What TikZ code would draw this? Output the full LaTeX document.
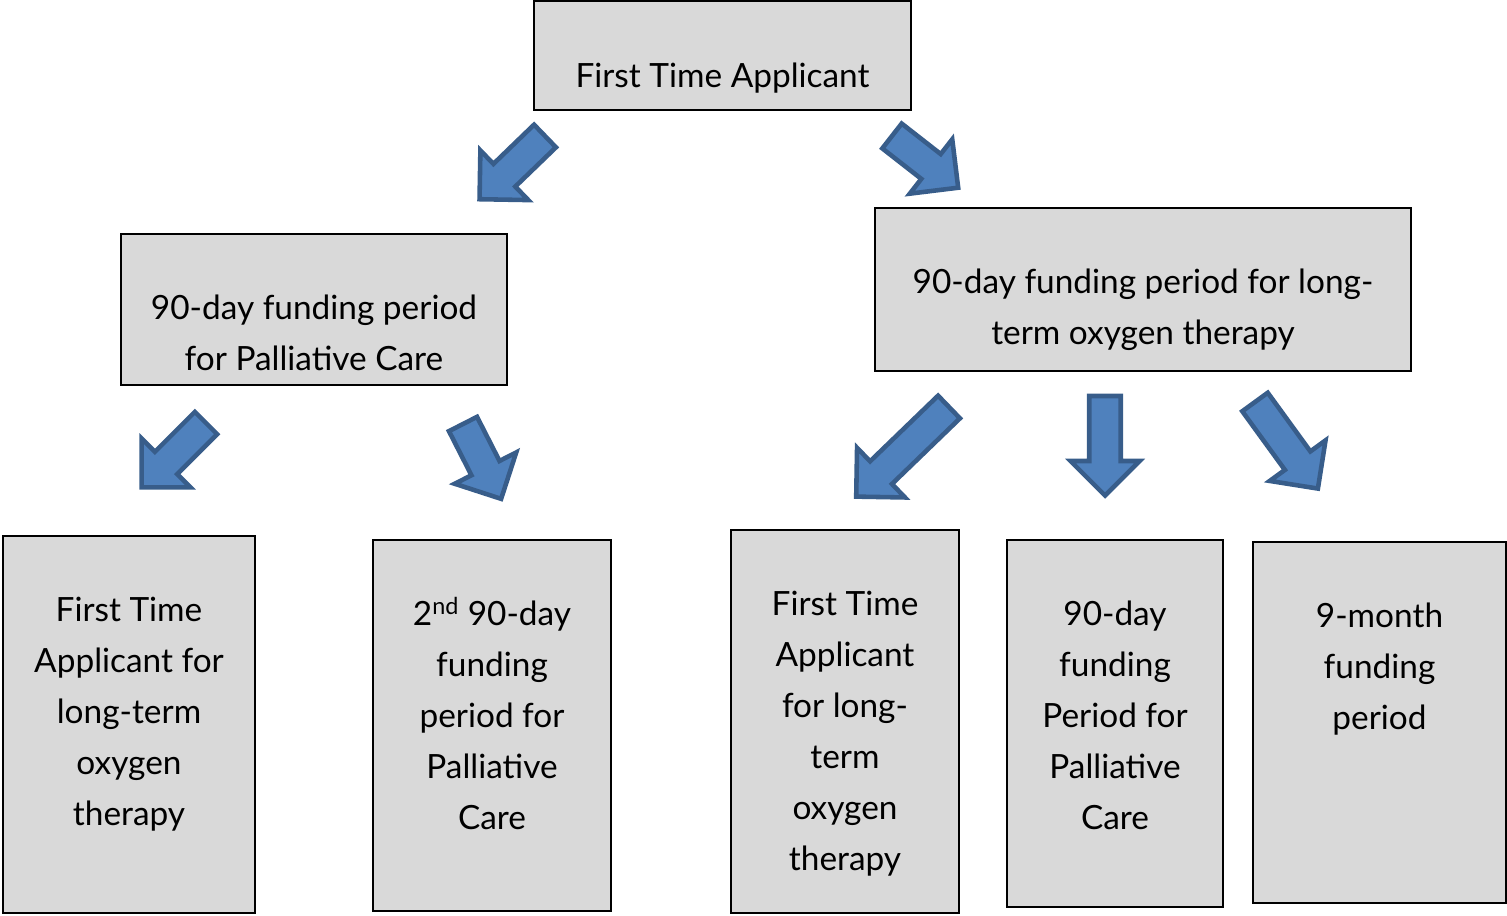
\documentclass[tikz,border=0pt]{standalone}
\usepackage{fontspec}
\setmainfont{Lato}
\usetikzlibrary{positioning}
\definecolor{boxgrey}{HTML}{D9D9D9}
\definecolor{arrowblue}{HTML}{4F81BD}
\definecolor{arrowedge}{HTML}{385D8A}
\tikzstyle{gblock} = [rectangle, draw=black, fill=boxgrey, line width=1pt]
\tikzstyle{btext} = [align=center, inner sep=0pt, anchor=north,
  font=\fontsize{19}{29}\selectfont, execute at begin node=\strut]
\tikzset{pics/barrow/.style={code={
  \draw[line width=2.6pt, draw=arrowedge, fill=arrowblue]
    (0,-0.315) -- (#1-0.69,-0.315) -- (#1-0.69,-0.69) -- (#1,0)
    -- (#1-0.69,0.69) -- (#1-0.69,0.315) -- (0,0.315) -- cycle;}}}

\begin{document}
\begin{tikzpicture}
    \useasboundingbox (0,0) rectangle (30.14,-18.3);
    % boxes
    \node (Top) [gblock, minimum width=7.54cm, minimum height=2.18cm] at (14.45,-1.11) {};
    \node (Pall) [gblock, minimum width=7.72cm, minimum height=3.02cm] at (6.28,-6.19) {};
    \node (Oxy) [gblock, minimum width=10.72cm, minimum height=3.26cm] at (22.86,-5.79) {};
    \node (PallFirst) [gblock, minimum width=5.04cm, minimum height=7.54cm] at (2.58,-14.49) {};
    \node (PallSecond) [gblock, minimum width=4.76cm, minimum height=7.42cm] at (9.84,-14.51) {};
    \node (OxyFirst) [gblock, minimum width=4.56cm, minimum height=7.66cm] at (16.9,-14.43) {};
    \node (OxyPall) [gblock, minimum width=4.32cm, minimum height=7.34cm] at (22.3,-14.47) {};
    \node (OxyNine) [gblock, minimum width=5.06cm, minimum height=7.22cm] at (27.59,-14.45) {};

    % texts
    \node (TopText) [btext, below=1.02cm of Top.north, anchor=north] {First Time Applicant};
    \node (PallText) [btext, below=1.23cm of Pall.north, anchor=north] {90-day funding period\\for Palliative Care};
    \node (OxyText) [btext, below=1.23cm of Oxy.north, anchor=north] {90-day funding period for long-\\term oxygen therapy};
    \node (PallFirstText) [btext, below=1.23cm of PallFirst.north, anchor=north] {First Time\\Applicant for\\long-term\\oxygen\\therapy};
    \node (PallSecondText) [btext, below=1.23cm of PallSecond.north, anchor=north] {2\smash{\textsuperscript{nd}} 90-day\\funding\\period for\\Palliative\\Care};
    \node (OxyFirstText) [btext, below=1.23cm of OxyFirst.north, anchor=north] {First Time\\Applicant\\for long-\\term\\oxygen\\therapy};
    \node (OxyPallText) [btext, below=1.23cm of OxyPall.north, anchor=north] {90-day\\funding\\Period for\\Palliative\\Care};
    \node (OxyNineText) [btext, below=1.23cm of OxyNine.north, anchor=north] {9-month\\funding\\period};

    % block arrows
    \pic[rotate=-136] (toPall) at (10.9,-2.72) {barrow=1.82};
    \pic[rotate=-38] (toOxy) at (17.84,-2.72) {barrow=1.68};
    \pic[rotate=-135] (toPallFirst) at (4.12,-8.46) {barrow=1.82};
    \pic[rotate=-63] (toPallSecond) at (9.26,-8.48) {barrow=1.68};
    \pic[rotate=-136] (toOxyFirst) at (18.98,-8.14) {barrow=2.58};
    \pic[rotate=-90] (toOxyPall) at (22.1,-7.92) {barrow=1.99};
    \pic[rotate=-54] (toOxyNine) at (25.1,-8.04) {barrow=2.14};
\end{tikzpicture}
\end{document}
